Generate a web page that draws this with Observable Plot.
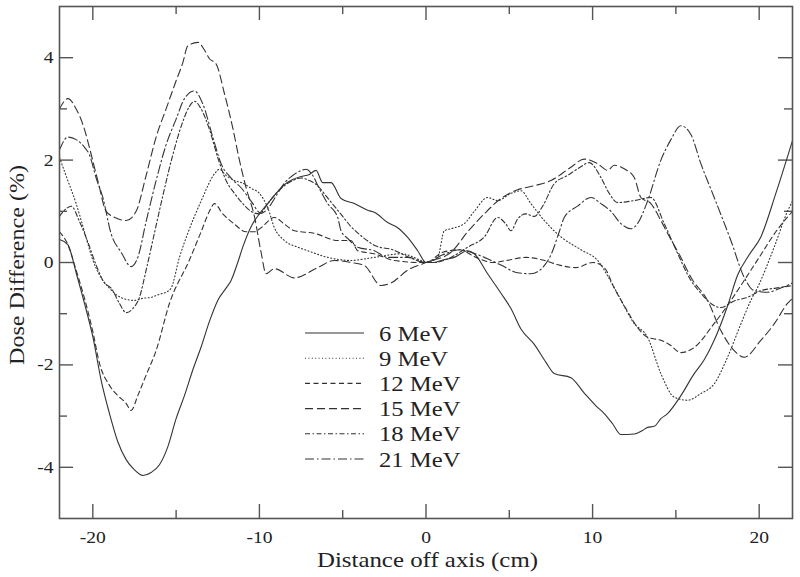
<!DOCTYPE html>
<html><head><meta charset="utf-8">
<script src="https://cdn.jsdelivr.net/npm/d3@7"></script>
<script src="https://cdn.jsdelivr.net/npm/@observablehq/plot@0.6"></script>
<style>
html,body{margin:0;padding:0;background:#fff;}
#chart{width:800px;height:577px;}
</style></head><body><div id="chart"></div>
<script>
// ---- data ----
const xMajorTicks = [-20, -10, 0, 10, 20];
const xMinorTicks = [-15, -5, 5, 15];
const yMajorTicks = [-4, -2, 0, 2, 4];
const yMinorTicks = [-3, -1, 1, 3];
const seriesNames = ["6 MeV", "9 MeV", "12 MeV", "15 MeV", "18 MeV", "21 MeV"];
const xTitle = "Distance off axis (cm)";
const yTitle = "Dose Difference (%)";

const mev6 = [[-22,0.45],[-21.5,0.35],[-21,-0.2],[-20.5,-0.8],[-20,-1.45],[-19.5,-2.3],[-19,-2.95],[-18.5,-3.5],[-18,-3.85],[-17.5,-4.05],[-17,-4.16],[-16.5,-4.1],[-16,-3.95],[-15.5,-3.6],[-15,-3.05],[-14.5,-2.6],[-14,-2.1],[-13.5,-1.65],[-13,-1.15],[-12.5,-0.74],[-12,-0.5],[-11.7,-0.35],[-11.3,0.0],[-11,0.3],[-10.5,0.7],[-10,0.95],[-9.5,1.15],[-9,1.35],[-8.5,1.52],[-8,1.62],[-7.5,1.68],[-7,1.72],[-6.6,1.8],[-6.2,1.56],[-5.7,1.56],[-5.1,1.25],[-4.3,1.15],[-3.5,1.02],[-3.1,0.98],[-2.3,0.78],[-1.7,0.68],[-1.1,0.49],[-0.5,0.23],[0,0],[0.5,0.0],[1,0.05],[1.7,0.1],[2.5,0.23],[2.9,0.17],[3.7,-0.22],[4.5,-0.6],[5.1,-0.9],[5.7,-1.3],[6.5,-1.6],[7.2,-1.95],[7.7,-2.17],[8.7,-2.25],[9.5,-2.55],[10.2,-2.8],[10.7,-2.95],[11.2,-3.15],[11.7,-3.36],[12.5,-3.35],[13,-3.28],[13.3,-3.22],[13.7,-3.2],[14.1,-3.05],[14.5,-2.95],[15.3,-2.6],[16.1,-2.17],[16.7,-1.9],[17.3,-1.52],[18.1,-0.85],[18.7,-0.25],[19.4,0.15],[20.1,0.5],[21,1.35],[22,2.38]];

const mev9 = [[-22,2.05],[-21.5,1.6],[-21,1.15],[-20.5,0.6],[-20,0.05],[-19.5,-0.3],[-19,-0.5],[-18.5,-0.65],[-18,-0.72],[-17.5,-0.74],[-17,-0.7],[-16.5,-0.68],[-16,-0.62],[-15.6,-0.58],[-15.3,-0.5],[-14.8,0.1],[-14.3,0.57],[-13.5,1.2],[-12.7,1.73],[-12.4,1.82],[-12,1.7],[-11.5,1.6],[-11,1.55],[-10.5,1.45],[-10,1.35],[-9.5,1.07],[-9.1,0.68],[-8.5,0.43],[-7.7,0.3],[-7.1,0.23],[-5.9,0.1],[-4.5,0.04],[-3.1,0.1],[-1.5,0.17],[-0.3,0.04],[0,0],[0.7,0.1],[1.1,0.62],[1.5,0.66],[2.3,0.76],[2.9,1.0],[3.7,1.27],[4.3,1.21],[5.1,1.35],[5.7,1.4],[6.3,1.15],[7.1,0.82],[8.1,0.5],[9.3,0.25],[10.3,0.04],[11.3,-0.49],[12.5,-1.19],[13.3,-1.46],[14.1,-2.17],[14.9,-2.63],[15.7,-2.69],[16.5,-2.56],[17.3,-2.37],[18.1,-1.85],[18.9,-1.2],[19.5,-0.74],[19.9,-0.49],[20.9,0.3],[21.7,1.0],[22,1.2]];

const mev12 = [[-22,0.6],[-21.5,0.35],[-21,-0.15],[-20.5,-0.7],[-20,-1.35],[-19.6,-1.97],[-19,-2.4],[-18.5,-2.6],[-18,-2.75],[-17.7,-2.89],[-17.3,-2.6],[-16.8,-2.2],[-16.2,-1.72],[-15.4,-0.8],[-14.2,0.05],[-13.5,0.6],[-13,1.0],[-12.7,1.15],[-12.2,0.95],[-11.5,0.75],[-10.8,0.6],[-10.3,0.6],[-9.9,0.68],[-9.1,0.88],[-8.5,0.75],[-7.9,0.62],[-6.7,0.57],[-5.3,0.43],[-4.5,0.43],[-4.1,0.23],[-3.1,0.17],[-1.9,0.04],[-0.3,0],[0,0],[1,0.2],[2,0.25],[3,0.1],[4,0.0],[5,0.05],[6,0.1],[7,0.05],[8,-0.05],[9,-0.1],[10,0.0],[10.7,-0.1],[11.3,-0.5],[12,-0.9],[12.7,-1.27],[13.3,-1.46],[14.1,-1.52],[14.6,-1.6],[15.3,-1.76],[16.1,-1.66],[17.3,-1.19],[18.1,-0.84],[19,-0.4],[20,0.1],[21,0.6],[22,1.0]];

const mev15 = [[-22,3.0],[-21.5,3.2],[-21,3.0],[-20.5,2.6],[-20.2,2.24],[-19.7,1.6],[-19.2,1.0],[-18.6,0.87],[-18,0.82],[-17.4,1.0],[-16.8,1.7],[-16.2,2.45],[-15.6,3.0],[-15,3.55],[-14.6,3.9],[-14.3,4.23],[-13.7,4.3],[-13.3,4.15],[-13,3.98],[-12.6,3.88],[-12.1,3.3],[-11.6,2.63],[-11.2,2.0],[-10.8,1.46],[-10.3,0.9],[-9.9,0.2],[-9.6,-0.22],[-9.1,-0.12],[-7.9,-0.3],[-6.5,-0.1],[-5.5,0.04],[-4.5,0],[-3.7,-0.06],[-2.7,-0.45],[-2.1,-0.4],[-1.1,-0.15],[0,0],[1.5,0.2],[2.5,0.6],[3.5,0.95],[4.5,1.25],[5.5,1.42],[6.5,1.5],[7.5,1.6],[8.7,1.86],[9.5,2.02],[10.3,1.93],[10.9,1.8],[11.3,1.9],[11.9,1.83],[12.5,1.66],[12.9,1.27],[13.5,1.15],[14.1,0.82],[14.5,0.57],[15.3,0.1],[15.9,-0.29],[16.9,-0.74],[17.7,-1.33],[18.5,-1.72],[19.1,-1.85],[20.1,-1.52],[20.9,-1.2],[21.7,-0.8],[22,-0.7]];

const mev18 = [[-22,0.9],[-21.6,1.05],[-21.3,1.1],[-20.8,0.8],[-20.3,0.4],[-19.8,-0.05],[-19.3,-0.4],[-18.9,-0.5],[-18.4,-0.8],[-18,-0.98],[-17.6,-0.9],[-17.2,-0.68],[-16.8,-0.15],[-16.4,0.43],[-15.8,1.3],[-15.2,2.1],[-14.6,2.75],[-14.2,3.05],[-13.9,3.15],[-13.5,3.0],[-13,2.6],[-12.5,2.05],[-12,1.6],[-11.5,1.35],[-11,1.15],[-10.5,1.0],[-10,0.95],[-9.5,1.15],[-9,1.35],[-8.5,1.5],[-8,1.6],[-7.5,1.65],[-7,1.6],[-6.5,1.5],[-6,1.3],[-5.5,1.1],[-5,0.9],[-4.5,0.7],[-4,0.55],[-3.5,0.42],[-3,0.32],[-2,0.25],[-1,0.1],[0,0],[0.5,0.0],[1.5,0.1],[2.5,0.3],[3.5,0.5],[4.3,0.88],[4.8,0.75],[5.1,0.62],[5.5,0.85],[6,0.95],[6.5,0.9],[7,1.1],[7.7,1.54],[8.5,1.7],[9.2,1.85],[9.8,1.95],[10.5,1.66],[11,1.35],[11.5,1.17],[12.5,1.21],[13.5,1.27],[14.3,0.76],[15.1,0.18],[15.9,-0.35],[16.5,-0.6],[17.1,-0.8],[17.7,-0.88],[18.5,-0.75],[19.3,-0.68],[20.1,-0.55],[21,-0.5],[22,-0.45]];

const mev21 = [[-22,2.2],[-21.5,2.45],[-21,2.4],[-20.5,2.25],[-20.2,2.1],[-19.8,1.65],[-19.4,1.27],[-18.9,0.56],[-18.3,0.2],[-17.7,-0.08],[-17.3,0.1],[-16.8,0.8],[-16.2,1.6],[-15.6,2.3],[-15,2.8],[-14.5,3.2],[-13.9,3.35],[-13.4,3.1],[-12.8,2.45],[-12.3,1.93],[-11.7,1.65],[-11.1,1.46],[-10.5,1.2],[-9.9,0.96],[-9.5,1.05],[-9,1.3],[-8.5,1.55],[-8,1.7],[-7.6,1.78],[-7.2,1.82],[-6.8,1.7],[-6.4,1.44],[-5.9,1.15],[-5.3,0.88],[-5.1,0.62],[-4.7,0.47],[-4.1,0.3],[-3.1,0.23],[-2.3,0.1],[-1.1,0.1],[0,0],[1,0.15],[2,0.25],[2.5,0.22],[3.5,0.1],[4.5,-0.05],[5.5,-0.2],[6.3,-0.22],[7,-0.1],[7.5,0.15],[8,0.6],[8.3,0.88],[9.1,1.1],[9.9,1.27],[10.5,1.15],[11.1,1.0],[11.7,0.76],[12.3,0.66],[12.7,0.76],[13.3,1.2],[14.1,2.0],[14.7,2.4],[15.3,2.67],[15.9,2.5],[16.5,1.93],[17.3,1.27],[18.3,0.43],[19.1,-0.29],[19.7,-0.55],[20.5,-0.58],[21.3,-0.5],[22,-0.4]];

const seriesData = [mev6, mev9, mev12, mev15, mev18, mev21];

// ---- styles / layout ----
const dashStyles = ["none", "1,2.4", "5,3.5", "8,4", "5,2.5,1.5,2.5", "9,3,1.5,3"];
const lineColor = "#333";
const W = 800, H = 577, mL = 59, mR = 8, mT = 6, mB = 59;
const plotW = W - mL - mR, plotH = H - mT - mB;
const majorLen = 14, minorLen = 8;
const tk = {stroke: "#555", strokeWidth: 1.4};

const marks = [
  Plot.axisX({ticks: xMajorTicks, tickSize: 0, tickPadding: 12, tickFormat: d => String(d), label: null}),
  Plot.axisY({ticks: yMajorTicks, tickSize: 0, tickPadding: 6, tickFormat: d => String(d), label: null}),
  Plot.tickX(xMajorTicks, {x: d => d, insetTop: plotH - majorLen, ...tk}),
  Plot.tickX(xMajorTicks, {x: d => d, insetBottom: plotH - majorLen, ...tk}),
  Plot.tickX(xMinorTicks, {x: d => d, insetTop: plotH - minorLen, ...tk}),
  Plot.tickX(xMinorTicks, {x: d => d, insetBottom: plotH - minorLen, ...tk}),
  Plot.tickY(yMajorTicks, {y: d => d, insetRight: plotW - majorLen, ...tk}),
  Plot.tickY(yMajorTicks, {y: d => d, insetLeft: plotW - majorLen, ...tk}),
  Plot.tickY(yMinorTicks, {y: d => d, insetRight: plotW - minorLen, ...tk}),
  Plot.tickY(yMinorTicks, {y: d => d, insetLeft: plotW - minorLen, ...tk}),
];
seriesData.forEach((s, i) => {
  marks.push(Plot.line(s, {x: d => d[0], y: d => d[1], stroke: lineColor, strokeWidth: 1.1,
    strokeDasharray: dashStyles[i] === "none" ? null : dashStyles[i], curve: "monotone-x"}));
});
marks.push(Plot.frame({stroke: "#555", strokeWidth: 1.6}));

const chart = Plot.plot({
  width: W, height: H, marginLeft: mL, marginRight: mR, marginTop: mT, marginBottom: mB,
  x: {domain: [-22, 22]},
  y: {domain: [-5, 5]},
  style: {fontFamily: "'Liberation Serif', 'Times New Roman', serif", fontSize: "17px", color: "#222", background: "#fff"},
  marks
});
document.getElementById("chart").append(chart);

const svg = d3.select(chart);
const stretch = 1.15;
svg.selectAll("text").each(function() {
  const L = this.getComputedTextLength();
  if (L > 0) { this.setAttribute("textLength", L * stretch); this.setAttribute("lengthAdjust", "spacingAndGlyphs"); }
});

const font = "'Liberation Serif', 'Times New Roman', serif";
// axis titles
svg.append("text").attr("x", mL + plotW / 2 + 2).attr("y", 567).attr("text-anchor", "middle")
  .attr("font-family", font).attr("font-size", 21).attr("fill", "#222")
  .attr("textLength", 221).attr("lengthAdjust", "spacingAndGlyphs").text(xTitle);
svg.append("text").attr("transform", `translate(24,${mT + plotH / 2 + 3}) rotate(-90)`).attr("text-anchor", "middle")
  .attr("font-family", font).attr("font-size", 21).attr("fill", "#222")
  .attr("textLength", 200).attr("lengthAdjust", "spacingAndGlyphs").text(yTitle);

// legend
const lg = svg.append("g").attr("text-anchor", "start");
seriesNames.forEach((name, i) => {
  const yy = 333 + i * 25.2;
  lg.append("line").attr("x1", 305).attr("x2", 364).attr("y1", yy).attr("y2", yy)
    .attr("stroke", lineColor).attr("stroke-width", 1.1)
    .attr("stroke-dasharray", dashStyles[i] === "none" ? null : dashStyles[i]);
  const t = lg.append("text").attr("x", 379).attr("y", yy + 7.5).attr("text-anchor", "start")
    .attr("font-family", font).attr("font-size", 22).attr("fill", "#222").text(name);
  const L = t.node().getComputedTextLength();
  t.attr("textLength", L * 1.12).attr("lengthAdjust", "spacingAndGlyphs");
});
</script></body></html>
